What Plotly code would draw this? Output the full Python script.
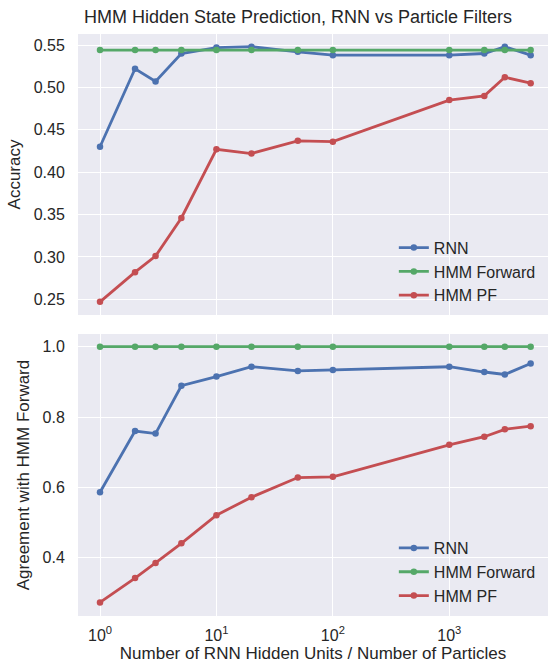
import plotly.graph_objects as go
from plotly.subplots import make_subplots

x_vals = [1, 2, 3, 5, 10, 20, 50, 100, 1000, 2000, 3000, 5000]

acc_rnn = [0.430, 0.522, 0.507, 0.540, 0.547, 0.548, 0.542, 0.538, 0.538, 0.540, 0.548, 0.538]
acc_fwd = [0.544] * 12
acc_pf = [0.247, 0.282, 0.301, 0.346, 0.427, 0.422, 0.437, 0.436, 0.485, 0.490, 0.512, 0.505]

agr_rnn = [0.586, 0.760, 0.753, 0.889, 0.915, 0.943, 0.931, 0.934, 0.943, 0.928, 0.921, 0.952]
agr_fwd = [1.0] * 12
agr_pf = [0.273, 0.342, 0.385, 0.441, 0.521, 0.572, 0.628, 0.630, 0.721, 0.744, 0.765, 0.774]

series_names = ["RNN", "HMM Forward", "HMM PF"]
colors = ["#4C72B0", "#55A868", "#C44E52"]

x_tickvals = [1, 10, 100, 1000]
x_ticktext = ["10<sup>0</sup>", "10<sup>1</sup>", "10<sup>2</sup>", "10<sup>3</sup>"]
top_ticks = [0.25, 0.30, 0.35, 0.40, 0.45, 0.50, 0.55]
bot_ticks = [0.4, 0.6, 0.8, 1.0]

fig = make_subplots(rows=2, cols=1, shared_xaxes=True)

for name, col, ys in zip(series_names, colors, [acc_rnn, acc_fwd, acc_pf]):
    fig.add_trace(go.Scatter(x=x_vals, y=ys, name=name, mode="lines+markers",
                             line=dict(color=col, width=2.8),
                             marker=dict(color=col, size=6.5),
                             legend="legend"), row=1, col=1)
for name, col, ys in zip(series_names, colors, [agr_rnn, agr_fwd, agr_pf]):
    fig.add_trace(go.Scatter(x=x_vals, y=ys, name=name, mode="lines+markers",
                             line=dict(color=col, width=2.8),
                             marker=dict(color=col, size=6.5),
                             legend="legend2"), row=2, col=1)

font_fam = "Liberation Sans, Arial, sans-serif"
txt = "#262626"
axis_common = dict(gridcolor="white", gridwidth=1.3, showline=False, zeroline=False,
                   ticks="outside", tickcolor="rgba(0,0,0,0)",
                   tickfont=dict(size=16, color=txt, family=font_fam))

fig.update_xaxes(type="log", range=[-0.189, 3.848], tickvals=x_tickvals,
                 ticktext=x_ticktext, ticklen=5, **axis_common)
fig.update_xaxes(showticklabels=False, row=1, col=1)
fig.update_xaxes(title=dict(text="Number of RNN Hidden Units / Number of Particles",
                            font=dict(size=17, color=txt, family=font_fam), standoff=0),
                 row=2, col=1)

fig.update_yaxes(ticklen=9, **axis_common)
fig.update_yaxes(range=[0.2315, 0.563], tickvals=top_ticks, tickformat=".2f",
                 domain=[0.5172, 1.0],
                 title=dict(text="Accuracy", font=dict(size=17, color=txt, family=font_fam), standoff=8),
                 row=1, col=1)
fig.update_yaxes(range=[0.2343, 1.036], tickvals=bot_ticks, tickformat=".1f",
                 domain=[0.0, 0.4845],
                 title=dict(text="Agreement with HMM Forward", font=dict(size=17, color=txt, family=font_fam), standoff=8),
                 row=2, col=1)

legend_style = dict(bgcolor="rgba(0,0,0,0)", font=dict(size=16, color=txt, family=font_fam),
                    xanchor="left", yanchor="top", tracegroupgap=0)

fig.update_layout(
    width=548, height=666,
    margin=dict(l=78, r=0, t=34, b=50),
    paper_bgcolor="white", plot_bgcolor="#EAEAF2",
    font=dict(family=font_fam, color=txt),
    title=dict(text="HMM Hidden State Prediction, RNN vs Particle Filters",
               x=0.468, xref="paper", xanchor="center", y=1 - 17 / 666, yanchor="middle",
               font=dict(size=18, color=txt, family=font_fam)),
    legend=dict(x=0.672, y=0.662, **legend_style),
    legend2=dict(x=0.672, y=0.146, **legend_style),
)

fig.write_html("out.html", config={"displayModeBar": False},
               post_script="document.body.style.margin='0';document.body.style.padding='0';")
